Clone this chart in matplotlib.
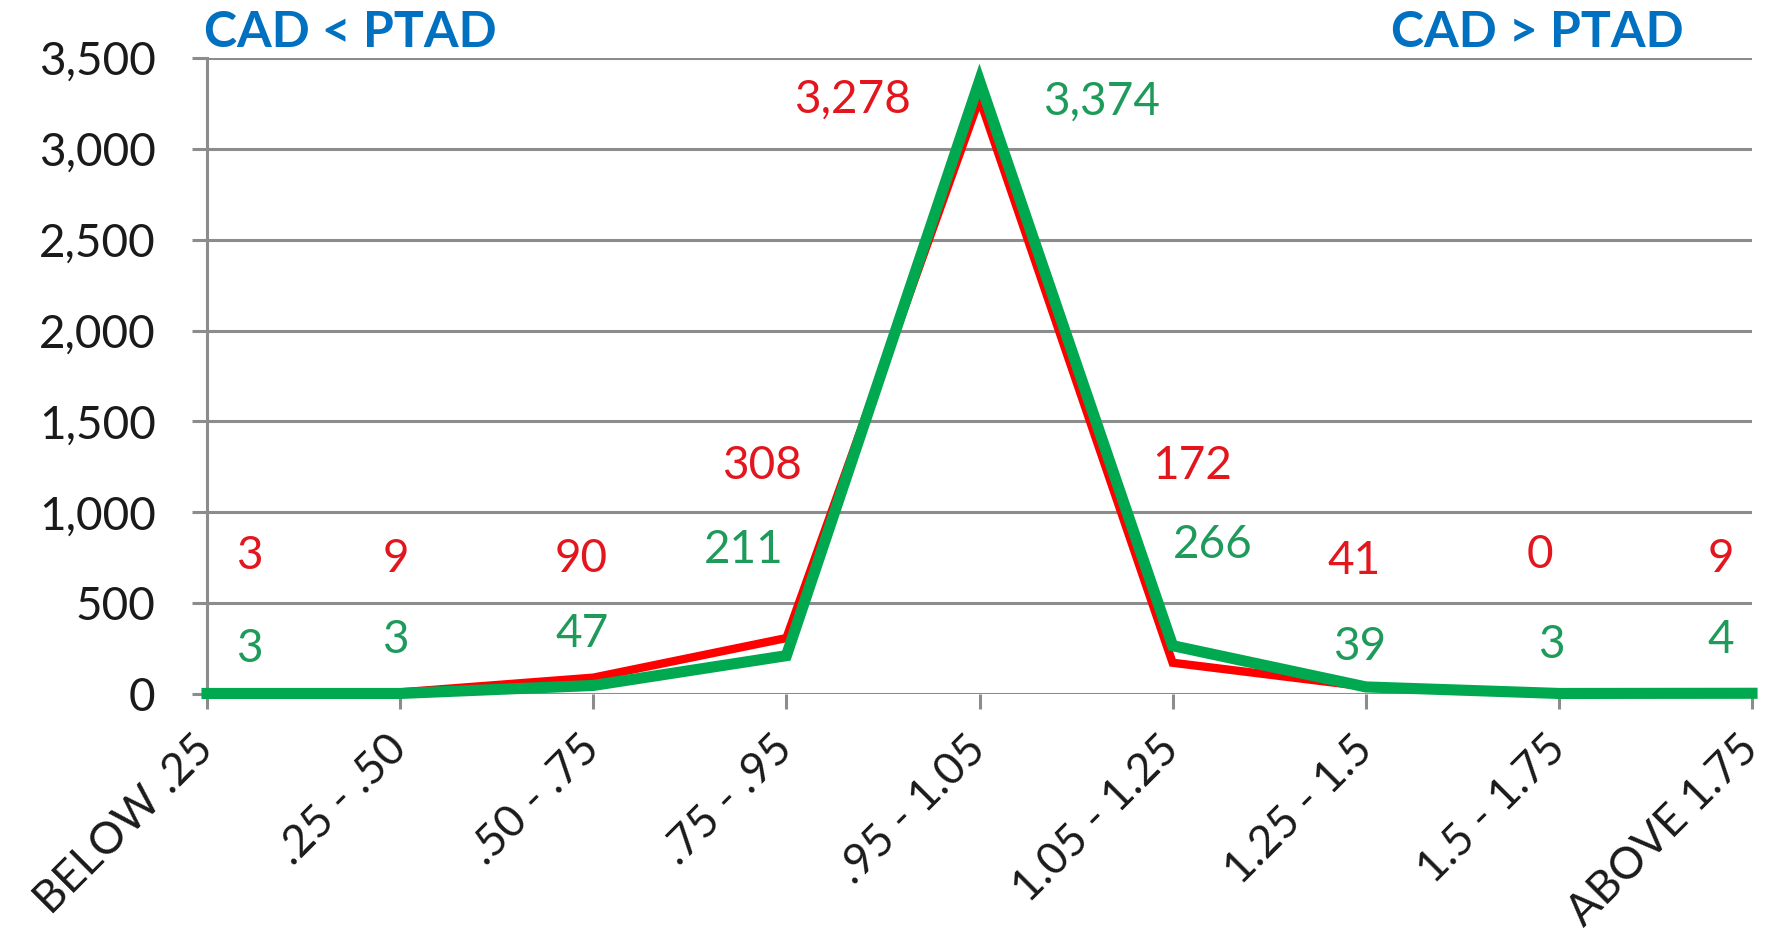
import numpy as np
import matplotlib.pyplot as plt
from matplotlib.ticker import FuncFormatter

categories = ["BELOW .25", ".25 - .50", ".50 - .75", ".75 - .95", ".95 - 1.05",
              "1.05 - 1.25", "1.25 - 1.5", "1.5 - 1.75", "ABOVE 1.75"]
ptad = [3, 9, 90, 308, 3278, 172, 41, 0, 9]
cad = [3, 3, 47, 211, 3374, 266, 39, 3, 4]

# where each value label sits (data coordinates)
ptad_lbl_x = [0.22, 0.98, 1.94, 2.875, 3.34, 5.10, 5.94, 6.90, 7.84]
ptad_lbl_y = [758, 745, 745, 1255, 3273, 1255, 733, 764, 745]
cad_lbl_x = [0.22, 0.975, 1.94, 2.78, 4.63, 5.21, 5.97, 6.96, 7.84]
cad_lbl_y = [248, 298, 329, 795, 3261, 820, 261, 267, 298]

RED = "#FF0000"
RED_TXT = "#E3161E"
GREEN = "#00A84F"
GREEN_TXT = "#1E9A5A"
GRID = "#8C8C8C"
BLUE = "#0070C0"

plt.rcParams['font.family'] = ['Lato', 'DejaVu Sans']

fig = plt.figure(figsize=(17.69, 9.39), dpi=100)
ax = fig.add_axes([207 / 1769, 1 - 694 / 939, (1752 - 207) / 1769, (694 - 58) / 939])

x = np.arange(len(categories))
ax.plot(x, ptad, color=RED, lw=6, solid_joinstyle='miter', zorder=3, clip_on=False)
ax.plot(x, cad, color=GREEN, lw=8, solid_joinstyle='miter', zorder=4, clip_on=False)

for xi, yi, v in zip(ptad_lbl_x, ptad_lbl_y, ptad):
    ax.text(xi, yi, f"{v:,}", color=RED_TXT, fontsize=33, ha='center', va='center')
for xi, yi, v in zip(cad_lbl_x, cad_lbl_y, cad):
    ax.text(xi, yi, f"{v:,}", color=GREEN_TXT, fontsize=33, ha='center', va='center')

ax.set_xlim(0, len(categories) - 1)
ax.set_ylim(0, 3500)
ax.set_yticks(np.arange(0, 3501, 500))
ax.yaxis.set_major_formatter(FuncFormatter(lambda v, p: f"{int(v):,}"))
ax.set_xticks(x)
ax.set_xticklabels(categories, rotation=45, ha='right', va='center',
                   rotation_mode='anchor')

ax.grid(axis='y', color=GRID, lw=2.2)
ax.set_axisbelow(True)
for s in ['top', 'right', 'bottom']:
    ax.spines[s].set_visible(False)
ax.spines['left'].set_color(GRID)
ax.spines['left'].set_linewidth(2.2)
ax.tick_params(axis='both', colors=GRID, width=2.2, length=11, labelsize=33,
               labelcolor='#1a1a1a')
ax.tick_params(axis='y', pad=26)
ax.tick_params(axis='x', pad=24, labelsize=32)

fig.text(204 / 1769, 1 - 10 / 939, "CAD < PTAD", color=BLUE, fontsize=36,
         fontweight='bold', ha='left', va='top')
fig.text(1684 / 1769, 1 - 10 / 939, "CAD > PTAD", color=BLUE, fontsize=36,
         fontweight='bold', ha='right', va='top')

fig.savefig("out.png", dpi=100)
